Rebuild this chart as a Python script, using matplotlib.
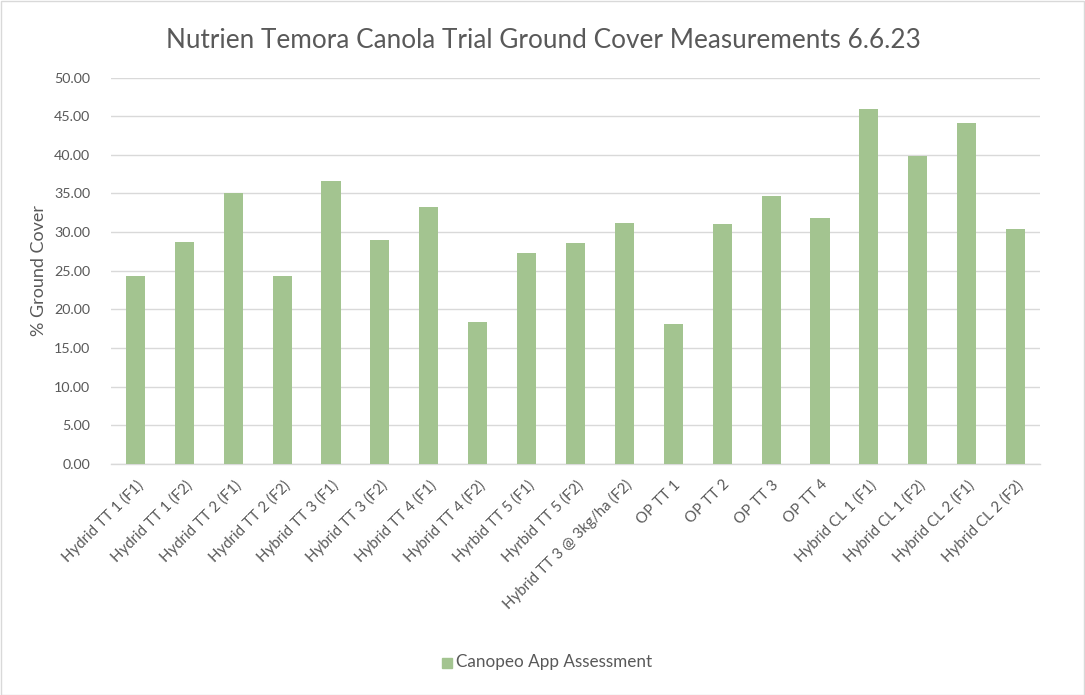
import matplotlib
matplotlib.use("Agg")
import matplotlib.pyplot as plt
from matplotlib.patches import Rectangle

categories = [
    "Hydrid TT 1 (F1)", "Hydrid TT 1 (F2)", "Hydrid TT 2 (F1)", "Hydrid TT 2 (F2)",
    "Hybrid TT 3 (F1)", "Hybrid TT 3 (F2)", "Hybrid TT 4 (F1)", "Hybrid TT 4 (F2)",
    "Hyrbid TT 5 (F1)", "Hyrbid TT 5 (F2)", "Hybrid TT 3 @ 3kg/ha (F2)",
    "OP TT 1", "OP TT 2", "OP TT 3", "OP TT 4",
    "Hybrid CL 1 (F1)", "Hybrid CL 1 (F2)", "Hybrid CL 2 (F1)", "Hybrid CL 2 (F2)",
]
ground_cover = [24.3, 28.7, 35.1, 24.3, 36.6, 29.0, 33.3, 18.35, 27.3, 28.6, 31.2,
                18.1, 31.05, 34.7, 31.8, 45.95, 39.85, 44.15, 30.4]
yticks = [0, 5, 10, 15, 20, 25, 30, 35, 40, 45, 50]
series_name = "Canopeo App Assessment"
title = "Nutrien Temora Canola Trial Ground Cover Measurements 6.6.23"
ylabel = "% Ground Cover"

plt.rcParams['font.family'] = ['Lato', 'DejaVu Sans']
W, H = 1085, 695
fig = plt.figure(figsize=(W / 100, H / 100), dpi=100)
ax = fig.add_axes([111 / W, 1 - 463.7 / H, (1040 - 111) / W, (463.7 - 77.7) / H])

txt = "#595959"
bar_color = "#A3C490"
x = list(range(len(categories)))
ax.bar(x, ground_cover, width=0.39, color=bar_color, zorder=3)
ax.set_xlim(-0.5, len(categories) - 0.5)
ax.set_ylim(0, 50)
ax.set_yticks(yticks)
ax.set_yticklabels([f"{v:.2f}" for v in yticks], color=txt, fontsize=10.3)
ax.set_xticks(x)
ax.set_xticklabels(categories, rotation=45, ha="right", rotation_mode="anchor",
                   color=txt, fontsize=10.8)
ax.tick_params(axis="both", length=0)
ax.tick_params(axis="y", pad=15)
ax.tick_params(axis="x", pad=10)
ax.grid(axis="y", color="#D9D9D9", linewidth=1, zorder=0)
for s in ["top", "right", "left"]:
    ax.spines[s].set_visible(False)
ax.spines["bottom"].set_color("#D9D9D9")
ax.spines["bottom"].set_linewidth(1)
ax.set_ylabel(ylabel, color=txt, fontsize=13)
ax.yaxis.set_label_coords(-64 / (1040 - 111), 0.5)

fig.text(543 / W, 1 - 40 / H, title, ha="center", va="center", color=txt, fontsize=18.8)

# legend
fig.patches.append(Rectangle((441.5 / W, 1 - 668 / H), 10 / W, 10 / H,
                             transform=fig.transFigure, color=bar_color))
fig.text(456 / W, 1 - 662 / H, series_name, ha="left", va="center", color=txt, fontsize=12.3)

# border
fig.patches.append(Rectangle((0.5 / W, 0.5 / H), 1 - 1.5 / W, 1 - 1.5 / H,
                             transform=fig.transFigure, fill=False,
                             edgecolor="#D9D9D9", linewidth=1))

fig.savefig("out.png", dpi=100)
